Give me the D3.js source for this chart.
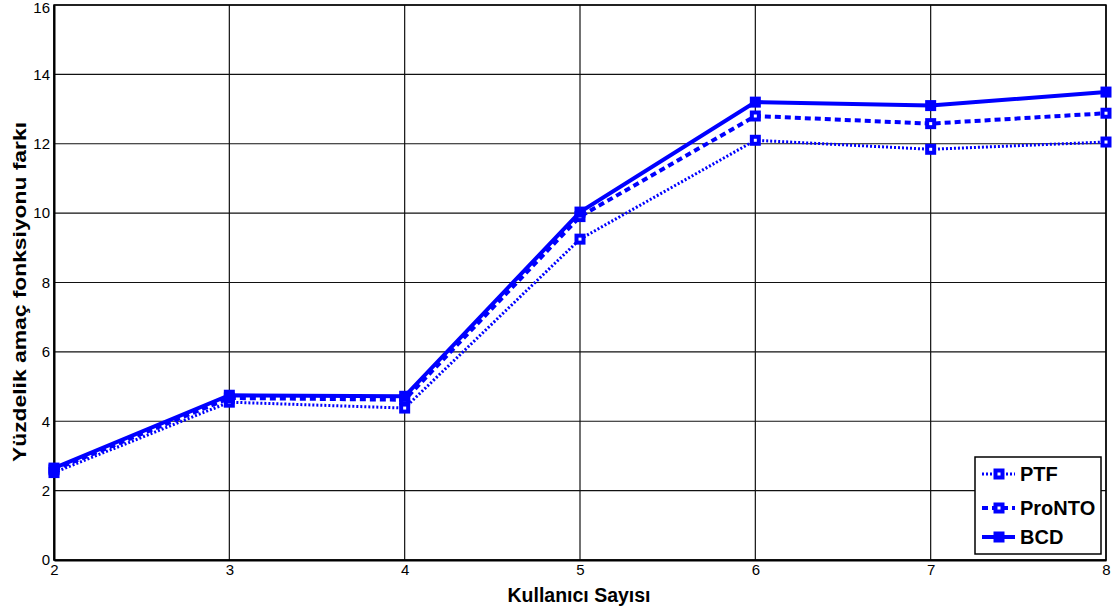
<!DOCTYPE html>
<html>
<head>
<meta charset="utf-8">
<script src="https://cdn.jsdelivr.net/npm/d3@7"></script>
<style>
  body { margin: 0; background: #fff; }
  svg { display: block; font-family: Arial, "Liberation Sans", sans-serif; }
</style>
</head>
<body>
<div id="chart"></div>
<script>
var width = 1112, height = 614;
var margin = {top: 5, right: 6, bottom: 54, left: 54};

// data
var users = [2, 3, 4, 5, 6, 7, 8];
var ptf    = [2.52, 4.55, 4.38, 9.25, 12.1, 11.84, 12.05];
var pronto = [2.6, 4.67, 4.62, 9.9, 12.8, 12.58, 12.88];
var bcd    = [2.65, 4.75, 4.72, 10.03, 13.2, 13.1, 13.49];
var yTicks = [0, 2, 4, 6, 8, 10, 12, 14, 16];

var series = [
  {name: 'PTF',    values: ptf,    width: 3, dash: '2,2'},
  {name: 'ProNTO', values: pronto, width: 4, dash: '6,4'},
  {name: 'BCD',    values: bcd,    width: 4, dash: null}
];

var svg = d3.select('#chart').append('svg')
  .attr('width', width).attr('height', height);

var x = d3.scaleLinear().domain([2, 8]).range([margin.left, width - margin.right]);
var y = d3.scaleLinear().domain([0, 16]).range([height - margin.bottom, margin.top]);

// grid
svg.append('g').selectAll('line.gy')
  .data(yTicks)
  .enter().append('line')
  .attr('x1', x(2)).attr('x2', x(8))
  .attr('y1', function(d){ return y(d); }).attr('y2', function(d){ return y(d); })
  .attr('stroke', '#111').attr('stroke-width', 1.2);

svg.append('g').selectAll('line.gx')
  .data(users)
  .enter().append('line')
  .attr('y1', y(0)).attr('y2', y(16))
  .attr('x1', function(d){ return x(d); }).attr('x2', function(d){ return x(d); })
  .attr('stroke', '#111').attr('stroke-width', 1.2);

// axes
var xAxis = svg.append('g')
  .attr('transform', 'translate(0,' + y(0) + ')')
  .call(d3.axisBottom(x).tickValues(users).tickSize(0).tickPadding(4).tickFormat(d3.format('d')));
var yAxis = svg.append('g')
  .attr('transform', 'translate(' + x(2) + ',0)')
  .call(d3.axisLeft(y).tickValues(yTicks).tickSize(0).tickPadding(4).tickFormat(d3.format('d')));

[xAxis, yAxis].forEach(function(a){
  a.select('.domain').attr('stroke', '#000').attr('stroke-width', 2);
  a.selectAll('text').attr('font-size', 15).attr('fill', '#000')
    .attr('font-family', 'Arial, "Liberation Sans", sans-serif');
});
// top label sits against the edge, nudge it inside
yAxis.selectAll('.tick').filter(function(d){ return d === 16; })
  .select('text').attr('dy', '0.32em').attr('y', 3);

svg.append('rect')
  .attr('x', x(2)).attr('y', y(16))
  .attr('width', x(8) - x(2)).attr('height', y(0) - y(16))
  .attr('fill', 'none').attr('stroke', '#000').attr('stroke-width', 1.5);

// lines
var line = d3.line()
  .x(function(d, i){ return x(users[i]); })
  .y(function(d){ return y(d); });

function marker(sel, s) {
  var open = !!s.dash;
  sel.attr('width', open ? 7 : 9).attr('height', open ? 7 : 9)
    .attr('fill', open ? '#fff' : '#0000ff')
    .attr('stroke', '#0000ff')
    .attr('stroke-width', open ? 4 : 2);
}

series.forEach(function(s){
  svg.append('path')
    .datum(s.values)
    .attr('d', line)
    .attr('fill', 'none')
    .attr('stroke', '#0000ff')
    .attr('stroke-width', s.width)
    .attr('stroke-dasharray', s.dash);

  var half = s.dash ? 3.5 : 4.5;
  svg.append('g').selectAll('rect')
    .data(s.values)
    .enter().append('rect')
    .attr('x', function(d, i){ return x(users[i]) - half; })
    .attr('y', function(d){ return y(d) - half; })
    .call(marker, s);
});

// legend
var lg = svg.append('g').attr('transform', 'translate(975,457)');
lg.append('rect')
  .attr('width', 126).attr('height', 97)
  .attr('fill', '#fff').attr('stroke', '#000').attr('stroke-width', 1.5);

series.forEach(function(s, i){
  var ly = [17, 51, 80][i];
  var half = s.dash ? 3.5 : 4.5;
  lg.append('line')
    .attr('x1', 7).attr('x2', 40).attr('y1', ly).attr('y2', ly)
    .attr('stroke', '#0000ff').attr('stroke-width', s.width)
    .attr('stroke-dasharray', s.dash);
  lg.append('rect')
    .attr('x', 24 - half).attr('y', ly - half)
    .call(marker, s);
  lg.append('text')
    .attr('x', 45).attr('y', ly + 7)
    .attr('font-size', 20).attr('font-weight', 'bold')
    .text(s.name);
});

// axis titles
svg.append('text')
  .attr('x', 579).attr('y', 602)
  .attr('text-anchor', 'middle')
  .attr('font-size', 19.5).attr('font-weight', 'bold')
  .text('Kullanıcı Sayısı');

svg.append('text')
  .attr('transform', 'translate(26,292) rotate(-90)')
  .attr('text-anchor', 'middle')
  .attr('font-size', 19).attr('font-weight', 'bold')
  .attr('textLength', 340).attr('lengthAdjust', 'spacingAndGlyphs')
  .text('Yüzdelik amaç fonksiyonu farkı');
</script>
</body>
</html>
